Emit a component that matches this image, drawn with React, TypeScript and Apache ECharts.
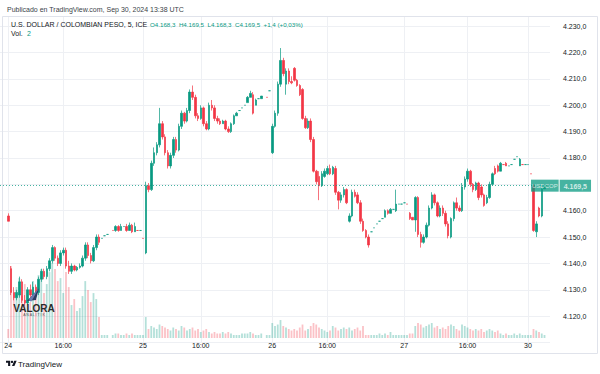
import React, { useEffect, useRef } from 'react';
import * as echarts from 'echarts';

type C = number[] | number | null;

// 5-minute candles, one slot per category index; [open, close, low, high]; a bare number = flat bar
const day24: C[] = [
  null, null, null,
  [4158, 4156, 4156, 4159],
  [4138, 4129, 4128, 4139], [4129, 4127, 4126, 4131], [4127, 4129, 4126, 4130], [4128, 4133, 4127, 4135],
  [4133, 4126, 4125, 4134], [4126, 4125, 4124, 4128], [4125, 4130, 4124.5, 4131], [4130, 4128, 4127, 4132],
  [4128, 4131, 4127, 4133], [4131, 4129, 4128, 4132], [4129, 4134, 4128, 4135], [4134, 4137, 4133, 4138],
  [4137, 4135, 4134, 4138], [4135, 4138, 4134, 4139], [4138, 4141, 4137, 4142], [4141, 4146, 4140, 4147],
  [4146, 4142, 4141, 4146.5], [4142, 4140, 4139, 4143], [4140, 4144, 4139, 4145], [4144, 4145, 4143, 4146],
  [4145, 4139, 4138, 4146], [4139, 4137, 4136, 4141], [4137, 4139, 4136, 4140], [4139, 4137.5, 4137, 4139.5],
  [4137.5, 4138.5, 4137, 4139], [4138.5, 4139, 4138, 4140], [4139, 4142, 4138.5, 4143], [4142, 4147, 4141, 4148],
  [4147, 4143, 4142, 4148], [4143, 4141, 4140, 4144], [4141, 4146, 4140.5, 4147], [4146, 4150, 4145, 4151],
  [4150, 4148, 4147, 4151],
  4149.5, 4150.5, 4151, null, 4152.5,
  [4152.5, 4154, 4152, 4154.5], [4154, 4152.5, 4152, 4154.5], [4152.5, 4154, 4152.5, 4155], 4154,
  [4154, 4152.5, 4152, 4155], [4152.5, 4154.5, 4152.5, 4155.5], [4154.5, 4152, 4151.5, 4155], [4152, 4154, 4152, 4155.5],
  4152.5, 4152.5, 4149.5,
];
const day25: C[] = [
  [4144, 4169.5, 4143.5, 4171], [4169.5, 4168, 4167, 4170.5], [4168, 4178, 4167.5, 4179], [4178, 4182, 4177, 4184],
  [4182, 4185, 4181, 4186], [4185, 4193, 4184, 4199], [4193, 4188, 4187, 4194], [4188, 4182, 4181, 4189],
  [4182, 4177, 4176, 4183], [4177, 4181, 4176, 4182], [4181, 4187, 4180, 4188], [4187, 4183, 4182, 4188],
  [4183, 4192, 4182.5, 4193], [4192, 4197, 4191, 4198], [4197, 4194, 4193, 4197.5], [4194, 4198, 4193.5, 4199],
  [4198, 4205, 4197, 4206], [4205, 4203, 4202, 4207.5], [4203, 4196, 4195, 4204], [4196, 4195, 4194, 4197],
  [4195, 4199, 4194.5, 4200], [4199, 4193, 4192, 4199.5], [4193, 4191, 4190.5, 4194], [4191, 4200, 4190.5, 4201],
  [4200, 4199, 4198, 4202], [4199, 4195, 4194, 4200], [4195, 4194, 4193, 4196], [4194, 4193, 4192.5, 4195],
  [4193, 4194, 4193, 4194.5], [4194, 4191, 4190.5, 4194.5], [4191, 4190, 4189.5, 4192], [4190, 4193, 4189.5, 4193.5],
  [4193, 4196, 4192.5, 4196.5], [4196, 4197, 4196, 4197.5],
  4198, 4199, 4200,
  [4201, 4203, 4201, 4203.5], [4203, 4204.5, 4203, 4205.5], [4204, 4197, 4196.5, 4205], [4200, 4202, 4200, 4202.5],
  4202.5, [4202.5, 4203.5, 4202.5, 4203.5], null, 4203, 4205.5,
];
const day26: C[] = [
  [4182, 4192, 4181.5, 4193], [4192, 4197, 4191.5, 4198], [4197, 4208, 4196, 4209], [4208, 4217, 4207, 4221.7],
  [4217, 4212, 4211, 4218], [4208, 4213, 4204, 4214], [4213, 4209, 4208, 4214], [4209, 4208.5, 4208, 4211],
  [4214, 4209.5, 4209, 4214.5], [4209.5, 4207.5, 4207, 4210], [4207.5, 4204, 4203.5, 4208], [4206, 4195, 4194.5, 4206.5],
  [4195, 4191.5, 4191, 4196], [4191.5, 4194, 4191, 4195], [4194, 4187, 4186, 4195], [4187, 4175, 4174.5, 4188],
  [4175, 4171, 4170, 4175.5], [4173, 4169.5, 4164, 4175], [4169.5, 4174, 4169, 4175], [4173, 4175, 4172.5, 4176],
  [4174, 4176, 4173.5, 4177], [4176, 4174, 4173.5, 4177.5], [4174, 4176.5, 4173.5, 4177], [4176, 4167, 4166, 4177],
  [4167, 4164, 4160.5, 4167.5], [4164, 4166, 4163, 4167], [4166, 4168, 4165, 4169], [4168, 4163, 4162.5, 4168.5],
  [4156, 4158, 4155.5, 4159], [4158, 4167, 4157.5, 4168], [4167, 4165.5, 4165, 4168], [4166, 4163, 4162.5, 4167],
  [4163, 4156, 4155, 4164], [4156, 4152.5, 4152, 4157], [4152.5, 4150, 4149.5, 4153], [4150, 4147, 4146, 4151],
  4152, 4153.5, 4155, 4156, 4157,
  [4157.5, 4160, 4157.5, 4160.5], [4160, 4159, 4158.5, 4160.5], [4159, 4160.5, 4159, 4161], 4160.5,
  [4160, 4162.5, 4159.5, 4168], 4162.5, 4162.5,
];
const day27: C[] = [
  4163, 4162.5,
  [4159, 4157, 4156.5, 4159.5], [4157.5, 4156.5, 4156.5, 4157.5], [4156.5, 4165, 4152, 4165.5], [4165, 4151, 4150, 4165.5],
  [4151, 4148, 4146, 4152], [4148, 4150, 4147.5, 4151], [4150, 4154.5, 4149.5, 4155.5], [4154.5, 4161, 4154, 4162],
  [4161, 4166, 4160.5, 4167], [4166, 4163, 4162, 4166.5], [4163, 4158, 4157.5, 4163.5], [4158, 4161, 4157.5, 4162],
  [4161, 4159, 4158, 4162], [4159, 4155, 4154, 4160], [4155, 4150.5, 4149.5, 4156], [4150, 4157, 4149.5, 4157.5],
  [4157, 4163, 4156, 4163.5], [4163, 4161, 4160, 4165], [4161, 4160, 4159.5, 4162], [4160, 4169, 4159.5, 4170.5],
  [4169, 4172, 4168, 4173], [4172, 4175, 4171, 4176], [4175, 4170, 4169, 4175.5], [4170, 4168, 4167, 4170.5],
  [4168, 4170.5, 4167.5, 4171], [4170.5, 4165, 4164, 4171], [4169, 4166, 4165, 4170], [4166, 4162, 4161.5, 4166.5],
  [4163, 4165, 4162.5, 4166], [4165, 4170, 4164.5, 4171], [4170, 4174, 4169.5, 4174.5], [4176, 4174, 4173.5, 4177],
  [4177, 4175, 4174.5, 4177.5], [4175, 4178, 4175, 4178.5], 4177.5, [4178, 4177, 4177, 4178.5],
  4177, 4177.5, 4179.5, 4180.5, [4177, 4179.5, 4177, 4180], 4177.5, 4177.5, 4177.5, 4174,
];
const day30: C[] = [
  [4169.5, 4152.5, 4152, 4170], [4152, 4155, 4150, 4156], [4161, 4158, 4157.5, 4161.5], [4158, 4168.1, 4157.5, 4168.5],
  [4168.3, 4169.5, 4168.3, 4169.5], null, null,
];

const vol24 = [0, 0, 0, 6, 48, 30, 34, 40, 28, 36, 30, 24, 38, 26, 42, 46, 30, 36, 44, 50, 46, 38, 40, 30, 44, 34, 22, 26, 18, 20, 28, 38, 32, 24, 30, 26, 14, 2, 2, 2, 0, 2, 3, 3, 2, 2, 3, 2, 3, 2, 2, 2, 2];
const vol25 = [14, 6, 8, 7, 6, 9, 8, 7, 6, 5, 7, 6, 5, 8, 7, 5, 6, 7, 5, 6, 4, 5, 6, 4, 3, 4, 3, 3, 4, 3, 4, 3, 2, 2, 2, 3, 3, 3, 4, 3, 2, 2, 3, 2, 2, 2];
const vol26 = [10, 8, 9, 12, 8, 7, 6, 5, 6, 5, 7, 9, 5, 6, 8, 10, 9, 7, 6, 5, 4, 5, 8, 7, 5, 6, 7, 6, 7, 5, 6, 7, 5, 8, 2, 2, 2, 2, 2, 3, 2, 3, 2, 4, 2, 2, 2, 2];
const vol27 = [2, 2, 3, 3, 8, 10, 9, 7, 8, 9, 10, 7, 8, 6, 7, 6, 8, 9, 8, 6, 5, 9, 8, 7, 6, 5, 6, 5, 6, 4, 5, 6, 5, 4, 5, 3, 2, 3, 2, 2, 3, 2, 3, 2, 2, 2, 2];
const vol30 = [6, 5, 4, 3, 2, 0, 0];

const timeTicks: [number, string][] = [
  [3, '24'], [23, '16:00'], [52, '25'], [73, '16:00'], [99, '26'], [119, '16:00'], [147, '27'], [170, '16:00'], [192, '30'],
];
const priceMin = 4110;
const priceMax = 4235;
const priceStep = 10;
const priceLabelRange = [4120, 4230];

const SYMBOL = 'USDCOP';
const TITLE = 'U.S. DOLLAR / COLOMBIAN PESO, 5, ICE';
const PUBLISHED = 'Publicado en TradingView.com, Sep 30, 2024 13:38 UTC';

const UP = '#089981';
const DOWN = '#F23645';
const VUP = 'rgba(8,153,129,0.3)';
const VDOWN = 'rgba(242,54,69,0.3)';
const FONT = 'Liberation Sans, Arial, sans-serif';
const TXT = '#131722';

function fmt(v: number): string {
  const [i, d] = v.toFixed(1).split('.');
  return i.replace(/\B(?=(\d{3})+(?!\d))/g, '.') + ',' + d;
}

const raw: C[] = [...day24, ...day25, ...day26, ...day27, ...day30];
const vols = [...vol24, ...vol25, ...vol26, ...vol27, ...vol30];
const ohlc = raw.map((c) => (c === null ? null : typeof c === 'number' ? [c, c, c, c] : c));

echarts.graphic.registerShape(
  'tvlogo',
  echarts.graphic.extendPath('M14 22H7V11H0V4h14v18zM28 22h-8l7.5-18h8L28 22z', {})
);

export default function App() {
  const ref = useRef<HTMLDivElement>(null);
  useEffect(() => {
    if (!ref.current) return;
    const chart = echarts.init(ref.current, undefined, { renderer: 'svg' });

    const tickMap = new Map<number, string>(timeTicks);
    const idx = ohlc.map((c, i) => (c ? i : -1)).filter((i) => i >= 0);
    const last = ohlc[idx[idx.length - 1]] as number[];
    const prev = ohlc[idx[idx.length - 2]] as number[];
    const lastVol = vols[idx[idx.length - 1]];
    const change = last[1] - prev[1];
    const pct = (change / prev[1]) * 100;
    const sgn = change >= 0 ? '+' : '-';
    const changeText = `${sgn}${Math.abs(change).toFixed(1).replace('.', ',')} (${sgn}${Math.abs(pct).toFixed(2).replace('.', ',')}%)`;

    const candleData = ohlc.map((c) => (c === null ? '-' : c));
    const volData = vols.map((v, i) => {
      const c = ohlc[i];
      if (!c || !v) return '-';
      return { value: v, itemStyle: { color: c[1] >= c[0] ? VUP : VDOWN } };
    });

    const ohlcText = [
      `O${fmt(last[0])}`,
      `H${fmt(last[3])}`,
      `L${fmt(last[2])}`,
      `C${fmt(last[1])}`,
      changeText,
    ].join('  ');

    const option: any = {
      animation: false,
      backgroundColor: '#ffffff',
      textStyle: { fontFamily: FONT },
      grid: { left: 0, right: 50, top: 13, bottom: 31.5, containLabel: false },
      xAxis: {
        type: 'category',
        data: ohlc.map((_, i) => String(i)),
        boundaryGap: false,
        axisLine: { show: false },
        axisTick: { show: false },
        axisLabel: {
          interval: (i: number) => tickMap.has(i),
          formatter: (_v: string, i: number) => tickMap.get(i) ?? '',
          color: TXT,
          fontSize: 7,
          margin: -1,
          fontFamily: FONT,
        },
        splitLine: {
          show: true,
          interval: (i: number) => tickMap.has(i),
          lineStyle: { color: '#eef0f4', width: 1 },
        },
      },
      yAxis: [
        {
          type: 'value',
          position: 'right',
          min: priceMin,
          max: priceMax,
          interval: priceStep,
          axisLine: { show: false },
          axisTick: { show: false },
          axisLabel: {
            showMaxLabel: false,
            showMinLabel: false,
            formatter: (v: number) =>
              v >= priceLabelRange[0] && v <= priceLabelRange[1] && Math.abs(v - last[1]) > 4 ? fmt(v) : '',
            color: TXT,
            fontSize: 7,
            margin: 13,
            fontFamily: FONT,
          },
          splitLine: { lineStyle: { color: '#eef0f4', width: 1 } },
        },
        { type: 'value', min: -3, max: 217, show: false, splitLine: { show: false } },
      ],
      series: [
        {
          type: 'bar',
          yAxisIndex: 1,
          data: volData,
          barWidth: 1.8,
          silent: true,
          markLine: {
            symbol: ['none', 'none'],
            silent: true,
            data: [
              {
                yAxis: lastVol,
                lineStyle: { opacity: 0 },
                label: {
                  show: true,
                  position: 'end',
                  distance: 10,
                  formatter: String(lastVol),
                  backgroundColor: UP,
                  color: '#fff',
                  fontSize: 7,
                  padding: [2, 3, 1, 3],
                  fontFamily: FONT,
                },
              },
            ],
          },
        },
        {
          type: 'candlestick',
          data: candleData,
          barWidth: 2,
          itemStyle: { color: UP, color0: DOWN, borderColor: UP, borderColor0: DOWN, borderWidth: 0.7 },
          markLine: {
            symbol: ['none', 'none'],
            silent: true,
            data: [
              {
                yAxis: last[1],
                lineStyle: { color: UP, type: [1, 2], width: 1, opacity: 0.75 },
                label: {
                  show: true,
                  position: 'end',
                  distance: -19,
                  formatter: `{a|${SYMBOL}}{s|}{b|${fmt(last[1])}}`,
                  rich: {
                    a: { backgroundColor: UP, color: '#fff', fontSize: 6, padding: [3, 1, 3, 1], fontFamily: FONT },
                    s: { width: 1, height: 12 },
                    b: { backgroundColor: UP, color: '#fff', fontSize: 7, fontWeight: 'bold', padding: [3, 4, 2, 4], fontFamily: FONT },
                  },
                },
              },
            ],
          },
        },
      ],
      graphic: [
        { type: 'rect', z: 100, shape: { x: 0, y: 0, width: 600, height: 16.5 }, style: { fill: '#ffffff' } },
        { type: 'rect', z: 100, shape: { x: 2.5, y: 16.5, width: 595, height: 337 }, style: { fill: 'none', stroke: '#e0e3eb', lineWidth: 1 } },
        { type: 'text', z: 101, x: 7, y: 9, style: { text: PUBLISHED, fill: '#3b3f4a', fontSize: 7, fontFamily: FONT, verticalAlign: 'middle' } },
        { type: 'text', z: 101, x: 11, y: 24.5, style: { text: TITLE, fill: TXT, fontSize: 7, fontFamily: FONT, verticalAlign: 'middle' } },
        { type: 'text', z: 101, x: 150, y: 24.5, style: { text: ohlcText, fill: UP, fontSize: 6.2, fontFamily: FONT, verticalAlign: 'middle' } },
        { type: 'text', z: 101, x: 11, y: 33.5, style: { text: 'Vol.', fill: TXT, fontSize: 7, fontFamily: FONT, verticalAlign: 'middle' } },
        { type: 'text', z: 101, x: 27, y: 33.5, style: { text: String(lastVol), fill: UP, fontSize: 7, fontFamily: FONT, verticalAlign: 'middle' } },
        // watermark logo
        { type: 'polygon', z: 101, shape: { points: [[27, 301], [39, 288], [36, 300]] }, style: { fill: '#2d3a63' } },
        { type: 'polygon', z: 101, shape: { points: [[29, 299], [39, 288], [31, 302]] }, style: { fill: '#6b7bb0' } },
        { type: 'text', z: 101, x: 34, y: 308, style: { text: 'VALORA', fill: '#2b2b2b', fontSize: 10, fontWeight: 'bold', fontFamily: FONT, align: 'center', verticalAlign: 'middle' } },
        { type: 'text', z: 101, x: 34, y: 315, style: { text: 'A N A L I T I K', fill: '#555', fontSize: 3.5, fontFamily: FONT, align: 'center', verticalAlign: 'middle' } },
        // footer
        { type: 'tvlogo', z: 101, x: 6, y: 359.5, scaleX: 0.3, scaleY: 0.3, style: { fill: TXT } },
        { type: 'circle', z: 101, shape: { cx: 12, cy: 361.9, r: 1.2 }, style: { fill: TXT } },
        { type: 'text', z: 101, x: 18, y: 364, style: { text: 'TradingView', fill: TXT, fontSize: 8, fontFamily: FONT, verticalAlign: 'middle' } },
      ],
    };
    chart.setOption(option);
    return () => chart.dispose();
  }, []);
  return <div ref={ref} style={{ position: 'fixed', left: 0, top: 0, width: 600, height: 374, background: '#fff' }} />;
}
